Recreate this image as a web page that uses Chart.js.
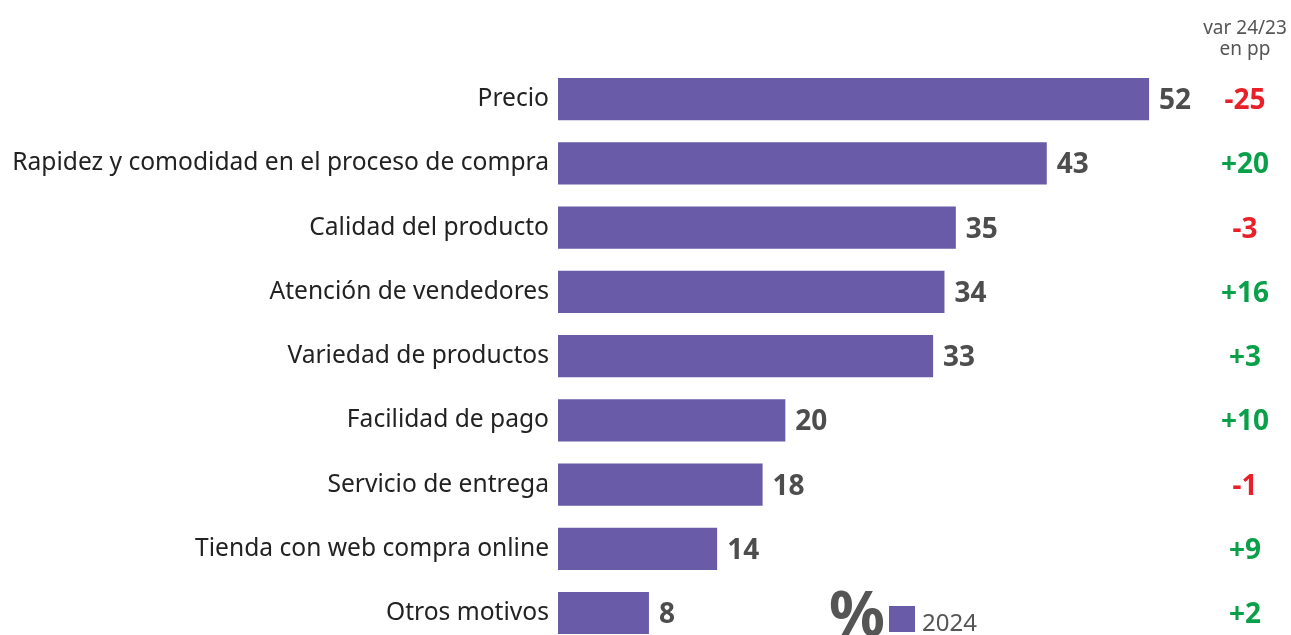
<!DOCTYPE html>
<html>
<head>
<meta charset="utf-8">
<script src="https://cdn.jsdelivr.net/npm/chart.js@4.4.1/dist/chart.umd.min.js"></script>
<style>
  html, body { margin: 0; padding: 0; background: #fff; overflow: hidden; }
  #wrap { position: absolute; left: 0; top: 0; width: 1291px; height: 669px; }
</style>
</head>
<body>
<div id="wrap"><canvas id="c" width="1291" height="669"></canvas></div>
<script>
const categories = [
  "Precio",
  "Rapidez y comodidad en el proceso de compra",
  "Calidad del producto",
  "Atención de vendedores",
  "Variedad de productos",
  "Facilidad de pago",
  "Servicio de entrega",
  "Tienda con web compra online",
  "Otros motivos"
];
const values2024 = [52, 43, 35, 34, 33, 20, 18, 14, 8];
const variation = [-25, 20, -3, 16, 3, 10, -1, 9, 2];
const seriesName = "2024";
const varHeader = ["var 24/23", "en pp"];

const FONT = "'Noto Sans', sans-serif";
const BAR = "#6a5ba8";

const extras = {
  id: 'extras',
  afterDatasetsDraw(chart) {
    const ctx = chart.ctx;
    const meta = chart.getDatasetMeta(0);
    ctx.save();
    ctx.font = "bold 28px " + FONT;
    ctx.fillStyle = "#4d4d4d";
    ctx.textAlign = "left";
    ctx.textBaseline = "middle";
    meta.data.forEach((bar, i) => {
      ctx.fillText(String(values2024[i]), bar.x + 10, bar.y + 2);
    });
    ctx.textAlign = "center";
    meta.data.forEach((bar, i) => {
      const v = variation[i];
      ctx.fillStyle = v < 0 ? "#e8202a" : "#0aa04a";
      ctx.fillText((v > 0 ? "+" : "") + v, 1245, bar.y + 2);
    });
    ctx.font = "19px " + FONT;
    ctx.fillStyle = "#555555";
    ctx.fillText(varHeader[0], 1245, 29);
    ctx.fillText(varHeader[1], 1245, 50);
    ctx.font = "bold 62px " + FONT;
    ctx.fillStyle = "#555555";
    ctx.textAlign = "left";
    ctx.textBaseline = "alphabetic";
    ctx.fillText("%", 829, 636);
    ctx.fillStyle = BAR;
    ctx.fillRect(889, 606, 26, 26);
    ctx.font = "24px " + FONT;
    ctx.fillStyle = "#555555";
    ctx.fillText(seriesName, 922, 631);
    ctx.restore();
  }
};

new Chart(document.getElementById('c'), {
  type: 'bar',
  data: {
    labels: categories,
    datasets: [{
      label: seriesName,
      data: values2024,
      backgroundColor: BAR,
      borderWidth: 0,
      categoryPercentage: 0.654,
      barPercentage: 1
    }]
  },
  options: {
    indexAxis: 'y',
    responsive: false,
    animation: false,
    layout: { padding: { top: 67, bottom: 6, left: 0, right: 51 } },
    plugins: { legend: { display: false }, tooltip: { enabled: false } },
    scales: {
      x: {
        display: false,
        min: 0, max: 60
      },
      y: {
        afterFit(scale) { scale.width = 558; },
        grid: { display: false, drawTicks: false },
        border: { display: false },
        ticks: {
          padding: 9,
          color: "#222222",
          font: { family: FONT, size: 24.6 }
        }
      }
    }
  },
  plugins: [extras]
});
</script>
</body>
</html>
